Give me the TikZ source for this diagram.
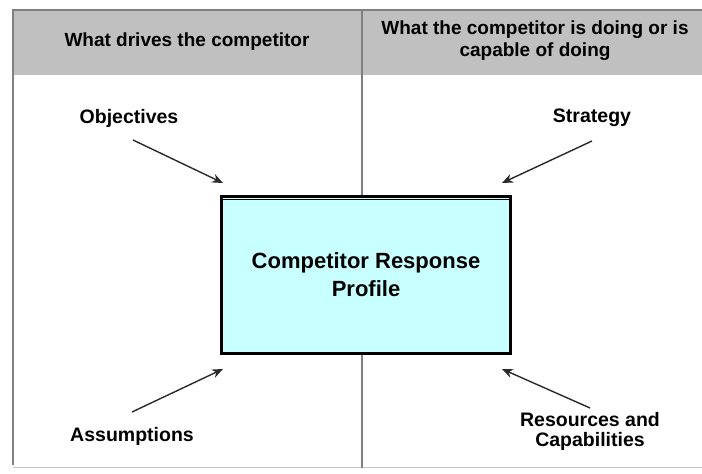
\documentclass[tikz,border=0pt]{standalone}
\usepackage{fontspec}
\setmainfont{Liberation Sans}
\usetikzlibrary{arrows.meta}

\definecolor{hdrgray}{HTML}{C0C0C0}
\definecolor{rulegray}{HTML}{808080}
\definecolor{boxcyan}{HTML}{C8FFFF}
\definecolor{arrowink}{HTML}{2A2A2A}

\begin{document}
\begin{tikzpicture}[x=1pt,y=-1pt,
  hdrtext/.style={font=\bfseries\fontsize{19}{22}\selectfont, align=center, inner sep=0pt},
  lbl/.style={font=\bfseries\fontsize{19.5}{20}\selectfont, align=center, inner sep=0pt},
  profile/.style={draw=black, line width=3.4pt, fill=boxcyan,
    minimum width=289pt, minimum height=157pt, inner sep=0pt, outer sep=0pt,
    font=\bfseries\fontsize{22}{28}\selectfont, align=center},
  pointer/.style={draw=arrowink, line width=1.4pt,
    -{Stealth[length=11pt,width=9pt]}}]

  \useasboundingbox (0,0) rectangle (702,474);
  \fill[white] (0,0) rectangle (702,474);

  % header band and frame
  \fill[hdrgray] (13,10) rectangle (702,75);
  \draw[rulegray, line width=1.6pt] (702,10) -- (13,10) -- (13,465);
  \draw[rulegray!45, line width=0.8pt] (13,467) -- (702,467);
  \draw[rulegray, line width=2pt] (362,10) -- (362,468);

  % column headings
  \node[hdrtext] (hdrL) at (187,42) {What drives the competitor};
  \node[hdrtext] (hdrR) at (535,41) {What the competitor is doing or is\\capable of doing};

  % central profile box with its raised top edge
  \node[profile] (prof) at (366,275) {Competitor Response\\Profile};
  \draw[black, line width=0.9pt] ([xshift=-1.7pt,yshift=-3.3pt]prof.north west)
    -- ([xshift=1.7pt,yshift=-3.3pt]prof.north east);

  % the four inputs
  \node[lbl] (obj)   at (129,118) {Objectives};
  \node[lbl] (strat) at (592,118) {Strategy};
  \node[lbl] (assum) at (132,436) {Assumptions};
  \node[lbl] (res)   at (590,431) {Resources and\\Capabilities};

  \coordinate (objTail)   at (133,140);
  \coordinate (objHead)   at (223,183);
  \coordinate (stratTail) at (592,141);
  \coordinate (stratHead) at (502,183);
  \coordinate (assumTail) at (132,412);
  \coordinate (assumHead) at (223,369);
  \coordinate (resTail)   at (590,408);
  \coordinate (resHead)   at (502,369);

  \draw[pointer] (objTail) -- (objHead);
  \draw[pointer] (stratTail) -- (stratHead);
  \draw[pointer] (assumTail) -- (assumHead);
  \draw[pointer] (resTail) -- (resHead);
\end{tikzpicture}
\end{document}
